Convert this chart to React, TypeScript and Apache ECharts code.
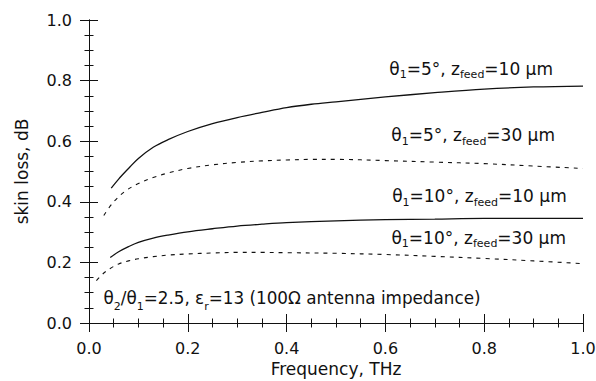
import React, { useEffect, useRef } from "react";
import * as echarts from "echarts";

// θ1=5°, z_feed=10 µm (solid)
const xA = [0.045, 0.06, 0.08, 0.1, 0.13, 0.16, 0.2, 0.25, 0.3, 0.35, 0.4, 0.45, 0.5, 0.6, 0.7, 0.8, 0.9, 1.0];
const yA = [0.445, 0.475, 0.51, 0.543, 0.58, 0.605, 0.632, 0.658, 0.678, 0.695, 0.711, 0.722, 0.73, 0.746, 0.76, 0.772, 0.779, 0.782];
// θ1=5°, z_feed=30 µm (dashed)
const xB = [0.03, 0.05, 0.075, 0.1, 0.13, 0.16, 0.2, 0.25, 0.3, 0.35, 0.4, 0.45, 0.5, 0.6, 0.7, 0.8, 0.9, 1.0];
const yB = [0.355, 0.4, 0.437, 0.46, 0.48, 0.495, 0.51, 0.522, 0.53, 0.535, 0.538, 0.54, 0.54, 0.536, 0.531, 0.526, 0.518, 0.51];
// θ1=10°, z_feed=10 µm (solid)
const xC = [0.043, 0.06, 0.08, 0.1, 0.13, 0.16, 0.2, 0.25, 0.3, 0.35, 0.4, 0.5, 0.6, 0.7, 0.8, 0.9, 1.0];
const yC = [0.216, 0.235, 0.252, 0.266, 0.28, 0.29, 0.301, 0.311, 0.32, 0.326, 0.331, 0.337, 0.341, 0.343, 0.345, 0.345, 0.345];
// θ1=10°, z_feed=30 µm (dashed)
const xD = [0.015, 0.03, 0.045, 0.06, 0.08, 0.1, 0.13, 0.16, 0.2, 0.25, 0.3, 0.35, 0.4, 0.5, 0.6, 0.7, 0.8, 0.9, 1.0];
const yD = [0.14, 0.165, 0.182, 0.195, 0.205, 0.212, 0.219, 0.224, 0.228, 0.231, 0.233, 0.233, 0.232, 0.23, 0.226, 0.22, 0.213, 0.205, 0.196];

const xName = "Frequency, THz";
const yName = "skin loss, dB";
const label1 = "{n|θ}{s|1}{n|=5°, z}{s|feed}{n|=10 µm}";
const label2 = "{n|θ}{s|1}{n|=5°, z}{s|feed}{n|=30 µm}";
const label3 = "{n|θ}{s|1}{n|=10°, z}{s|feed}{n|=10 µm}";
const label4 = "{n|θ}{s|1}{n|=10°, z}{s|feed}{n|=30 µm}";
const label5 = "{n|θ}{s|2}{n|/θ}{s|1}{n|=2.5, ε}{s|r}{n|=13 (100Ω antenna impedance)}";

const FONT = "DejaVu Sans";
const INK = "#111";

const zip = (xs: number[], ys: number[]) => xs.map((x, i) => [x, ys[i]]);

export default function App() {
  const ref = useRef<HTMLDivElement>(null);
  useEffect(() => {
    if (!ref.current) return;
    const chart = echarts.init(ref.current, null, { renderer: "svg" });
    const mkRich = (main: number, lh: number) => ({
      n: { fontFamily: FONT, fontSize: main, lineHeight: lh, verticalAlign: "top", fill: INK, color: INK },
      s: { fontFamily: FONT, fontSize: 11, lineHeight: lh, verticalAlign: "bottom", fill: INK, color: INK },
    });
    const mkText = (text: string, x: number, y: number, align: string, rich: any) => ({
      type: "text",
      x,
      y,
      silent: true,
      style: { text, rich, align, verticalAlign: "top", fill: INK, font: `17px ${FONT}` },
    });
    const axisCommon = {
      type: "value",
      min: 0,
      max: 1,
      interval: 0.2,
      axisLine: { show: true, lineStyle: { color: INK, width: 1 } },
      axisTick: { show: true, inside: false, length: 9, lineStyle: { color: INK, width: 1 } },
      minorTick: { show: true, splitNumber: 4, length: 4.5, lineStyle: { color: INK, width: 1 } },
      splitLine: { show: false },
      minorSplitLine: { show: false },
    };
    const labelStyle = {
      color: INK,
      fontFamily: FONT,
      fontSize: 16,
      formatter: (v: number) => v.toFixed(1),
    };
    const line = (xs: number[], ys: number[], dashed: boolean) => ({
      type: "line",
      data: zip(xs, ys),
      showSymbol: false,
      symbol: "none",
      smooth: 0.35,
      xAxisIndex: 0,
      yAxisIndex: 0,
      lineStyle: { color: INK, width: dashed ? 1.1 : 1.3, type: dashed ? [4, 5] : "solid" },
      silent: true,
    });
    const upper = mkRich(17, 20);
    const lower = mkRich(16.8, 22);
    chart.setOption({
      animation: false,
      backgroundColor: "#fff",
      grid: { left: 89, right: 13, top: 20, bottom: 58, containLabel: false, outerBoundsMode: "none" },
      xAxis: [
        {
          ...axisCommon,
          position: "bottom",
          axisLabel: { ...labelStyle, margin: 17 },
          name: xName,
          nameLocation: "middle",
          nameGap: 37,
          nameTextStyle: { color: INK, fontFamily: FONT, fontSize: 17 },
        },
        { ...axisCommon, position: "top", axisLabel: { show: false } },
      ],
      yAxis: [
        {
          ...axisCommon,
          position: "left",
          axisLabel: { ...labelStyle, margin: 17 },
          name: yName,
          nameLocation: "middle",
          nameGap: 59,
          nameTextStyle: { color: INK, fontFamily: FONT, fontSize: 17 },
        },
        { ...axisCommon, position: "right", axisLabel: { show: false } },
      ],
      series: [line(xA, yA, false), line(xB, yB, true), line(xC, yC, false), line(xD, yD, true)],
      graphic: [
        mkText(label1, 553, 60, "right", upper),
        mkText(label2, 555, 126.5, "right", upper),
        mkText(label3, 566.7, 187.5, "right", upper),
        mkText(label4, 566, 229, "right", upper),
        mkText(label5, 103.5, 289.5, "left", lower),
      ],
    });
    return () => chart.dispose();
  }, []);
  return <div ref={ref} style={{ width: 596, height: 381, position: "absolute", left: 0, top: 0 }} />;
}
